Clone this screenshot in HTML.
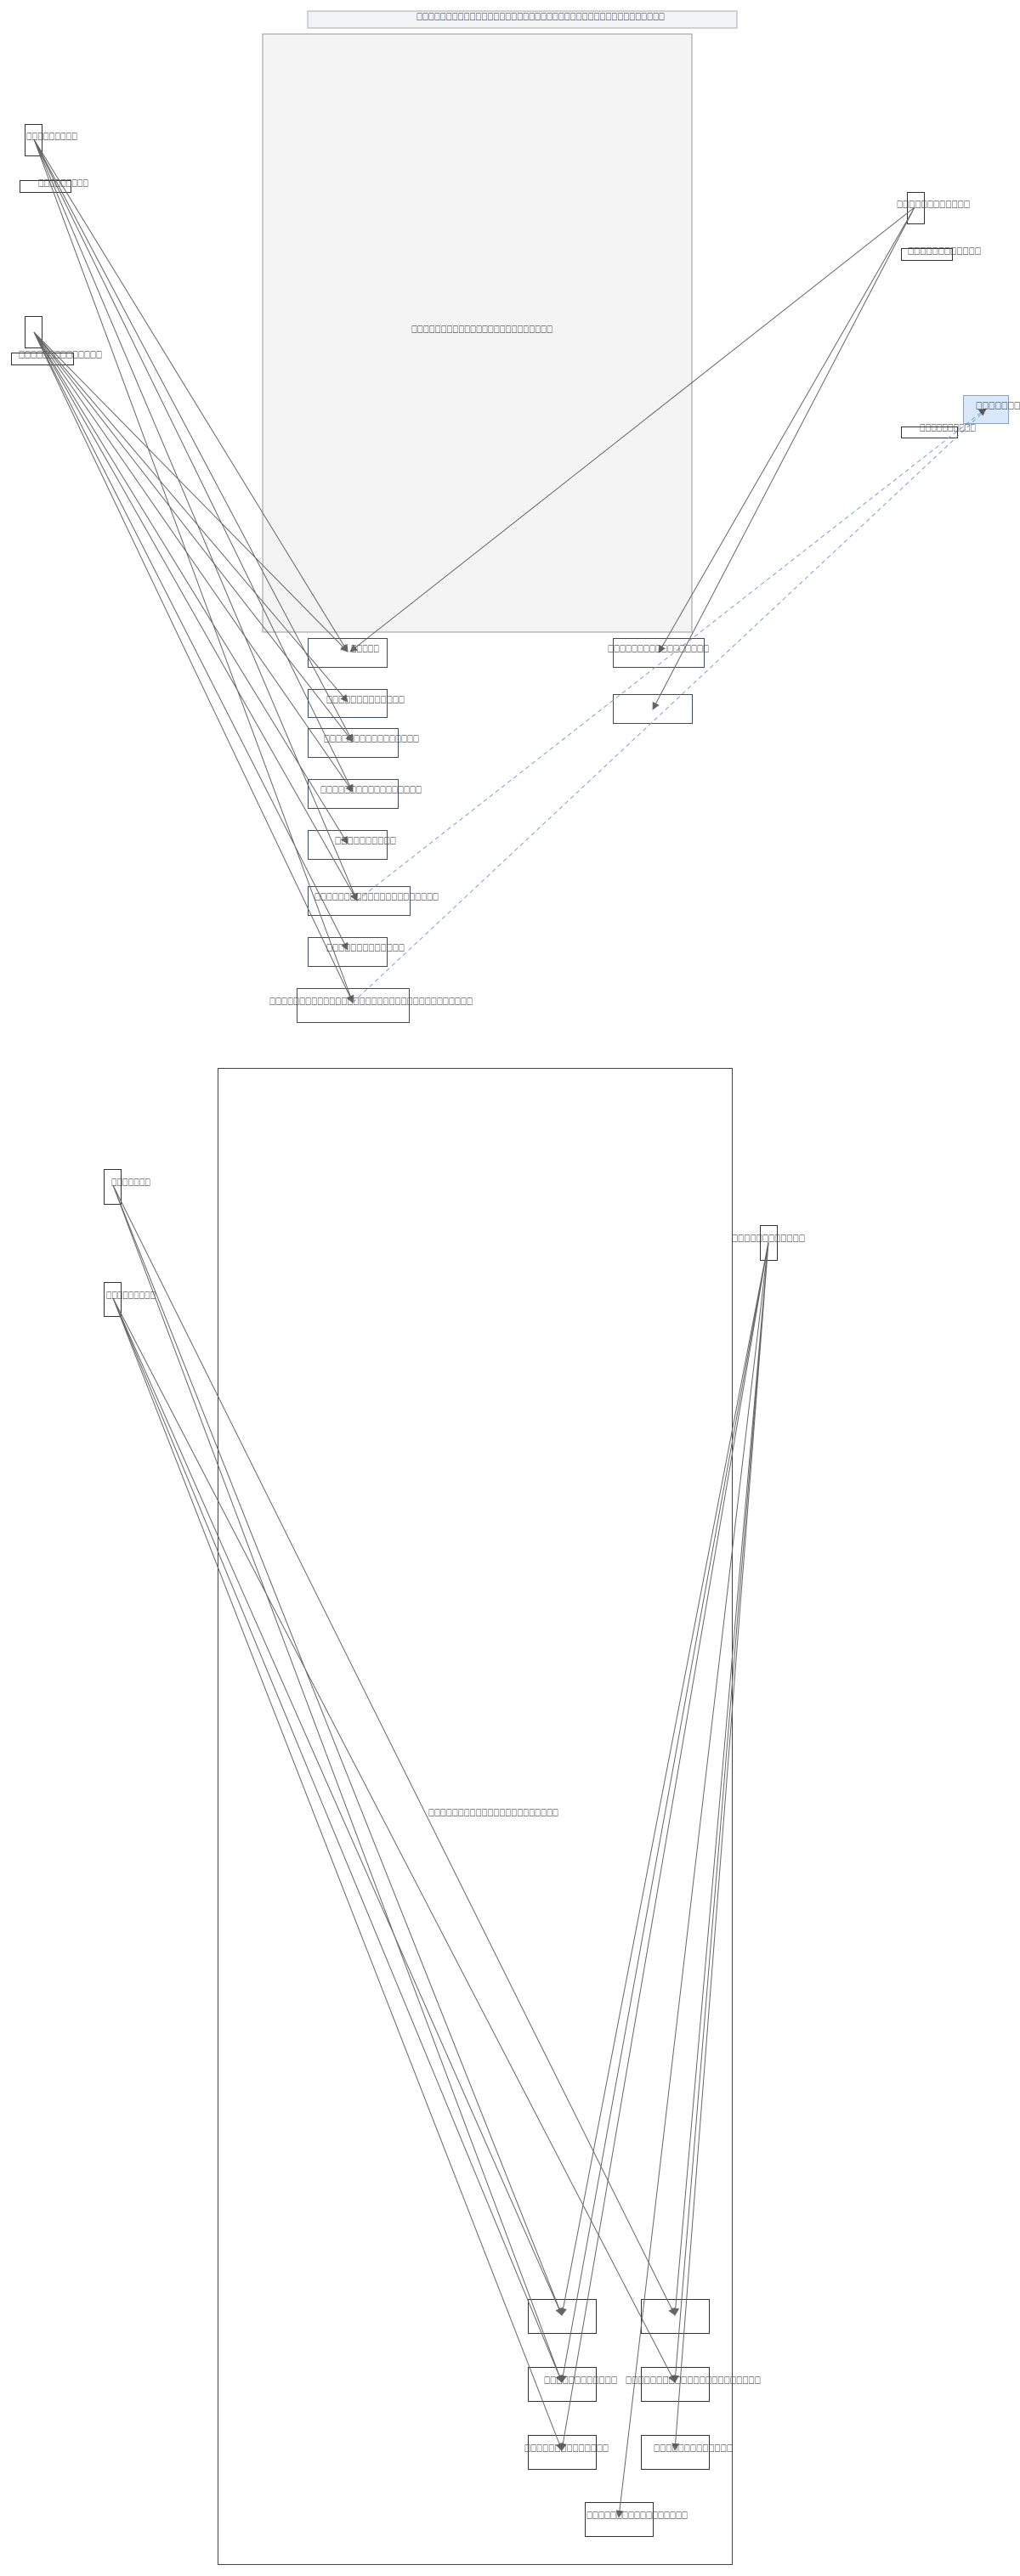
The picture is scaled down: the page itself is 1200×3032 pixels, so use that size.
<!DOCTYPE html>
<html><head><meta charset="utf-8"><style>html,body{margin:0;padding:0;background:#fff}svg{display:block}</style></head>
<body>
<svg width="1200" height="3032" viewBox="0 0 1200 3032" xmlns="http://www.w3.org/2000/svg" font-family="'DejaVu Sans','Liberation Sans',sans-serif" font-size="11">
<defs>
<marker id="ar" viewBox="0 0 10 10" refX="9" refY="5" markerWidth="9" markerHeight="9" orient="auto" markerUnits="userSpaceOnUse"><path d="M0,0L10,5L0,10z" fill="#666"/></marker>
<marker id="ab" viewBox="0 0 10 10" refX="9" refY="5" markerWidth="9" markerHeight="9" orient="auto" markerUnits="userSpaceOnUse"><path d="M0,0L10,5L0,10z" fill="#555"/></marker>
</defs>
<rect x="362" y="13" width="505" height="20" fill="#f1f3f5" stroke="#aab"/>
<rect x="309" y="40" width="505" height="704" fill="#f4f4f4" stroke="#999"/>
<rect x="29.5" y="146.5" width="20" height="37" fill="none" stroke="#333"/>
<rect x="23.5" y="212.5" width="60" height="14" fill="none" stroke="#333"/>
<rect x="29.5" y="372.5" width="20" height="37" fill="none" stroke="#333"/>
<rect x="13.5" y="415.5" width="73" height="14" fill="none" stroke="#333"/>
<rect x="1067.5" y="226.5" width="20" height="37" fill="none" stroke="#333"/>
<rect x="1060.5" y="292.5" width="60" height="14" fill="none" stroke="#333"/>
<rect x="1133.5" y="465.5" width="53" height="33" fill="#dae8fc" stroke="#8aa4cc"/>
<rect x="1060.5" y="502.5" width="66" height="13" fill="none" stroke="#333"/>
<g fill="#fff" stroke="#3d4a63">
<rect x="362.5" y="751.5" width="93" height="34"/>
<rect x="362.5" y="811.5" width="93" height="33"/>
<rect x="362.5" y="857.5" width="106" height="34"/>
<rect x="362.5" y="917.5" width="106" height="34"/>
<rect x="362.5" y="977.5" width="93" height="34"/>
<rect x="362.5" y="1043.5" width="120" height="34"/>
<rect x="362.5" y="1103.5" width="93" height="34"/>
<rect x="349.5" y="1163.5" width="132" height="40"/>
<rect x="721.5" y="751.5" width="107" height="34"/>
<rect x="721.5" y="817.5" width="93" height="34"/>
</g>
<rect x="256.5" y="1257.5" width="605" height="1761" fill="none" stroke="#444"/>
<rect x="122.5" y="1376.5" width="20" height="41" fill="none" stroke="#333"/>
<rect x="122.5" y="1509.5" width="20" height="40" fill="none" stroke="#333"/>
<rect x="894.5" y="1442.5" width="20" height="41" fill="none" stroke="#333"/>
<g fill="none" stroke="#333">
<rect x="621.5" y="2706.5" width="80" height="40"/>
<rect x="754.5" y="2706.5" width="80" height="40"/>
<rect x="621.5" y="2786.5" width="80" height="40"/>
<rect x="754.5" y="2786.5" width="80" height="40"/>
<rect x="621.5" y="2866.5" width="80" height="40"/>
<rect x="754.5" y="2866.5" width="80" height="40"/>
<rect x="688.5" y="2945.5" width="80" height="40"/>
</g>
<g stroke="#666" stroke-width="1" fill="none" marker-end="url(#ar)">
<line x1="40" y1="164" x2="409" y2="767"/>
<line x1="40" y1="164" x2="415" y2="873"/>
<line x1="40" y1="164" x2="415" y2="932"/>
<line x1="40" y1="164" x2="420" y2="1060"/>
<line x1="40" y1="164" x2="415" y2="1180"/>
<line x1="40" y1="391" x2="409" y2="767"/>
<line x1="40" y1="391" x2="409" y2="826"/>
<line x1="40" y1="391" x2="415" y2="873"/>
<line x1="40" y1="391" x2="415" y2="932"/>
<line x1="40" y1="391" x2="409" y2="993"/>
<line x1="40" y1="391" x2="420" y2="1060"/>
<line x1="40" y1="391" x2="409" y2="1118"/>
<line x1="40" y1="391" x2="415" y2="1180"/>
<line x1="1076" y1="244" x2="412" y2="767"/>
<line x1="1076" y1="244" x2="775" y2="768"/>
<line x1="1076" y1="244" x2="768" y2="835"/>
</g>
<g stroke="#7b9fd4" stroke-width="1" stroke-dasharray="5,4" fill="none">
<line x1="420" y1="1060" x2="1160" y2="481" marker-end="url(#ab)"/>
<line x1="415" y1="1180" x2="1158" y2="484"/>
</g>
<g stroke="#666" stroke-width="1" fill="none" marker-end="url(#ar)">
<line x1="133" y1="1395" x2="661" y2="2725"/>
<line x1="133" y1="1395" x2="661" y2="2804"/>
<line x1="133" y1="1395" x2="794" y2="2725"/>
<line x1="133" y1="1528" x2="661" y2="2725"/>
<line x1="133" y1="1528" x2="661" y2="2804"/>
<line x1="133" y1="1528" x2="661" y2="2884"/>
<line x1="133" y1="1528" x2="794" y2="2804"/>
<line x1="904" y1="1462" x2="661" y2="2725"/>
<line x1="904" y1="1462" x2="661" y2="2804"/>
<line x1="904" y1="1462" x2="661" y2="2884"/>
<line x1="904" y1="1462" x2="728" y2="2963"/>
<line x1="904" y1="1462" x2="794" y2="2725"/>
<line x1="904" y1="1462" x2="794" y2="2804"/>
<line x1="904" y1="1462" x2="794" y2="2884"/>
</g>
<g fill="#444" dominant-baseline="central">
<text x="490" y="19" textLength="292" lengthAdjust="spacingAndGlyphs" fill="#334a6e">□□□□□□□□□□□□□□□□□□□□□□□□□□□□□□□□□□□□□□□□□□</text>
<text x="484" y="387" textLength="166" lengthAdjust="spacingAndGlyphs">□□□□□□□□□□□□□□□□□□□□□□□□</text>
<text x="31" y="160" textLength="60" lengthAdjust="spacingAndGlyphs">□□□□□□□□□</text>
<text x="45" y="215" textLength="59" lengthAdjust="spacingAndGlyphs">□□□□□□□□□</text>
<text x="22" y="417" textLength="98" lengthAdjust="spacingAndGlyphs">□□□□□□□□□□□□□□</text>
<text x="1055" y="240" textLength="86" lengthAdjust="spacingAndGlyphs">□□□□□□□□□□□□</text>
<text x="1068" y="295" textLength="86" lengthAdjust="spacingAndGlyphs">□□□□□□□□□□□□</text>
<text x="1148" y="477" textLength="60" lengthAdjust="spacingAndGlyphs">□□□□□□□□</text>
<text x="1082" y="503" textLength="66" lengthAdjust="spacingAndGlyphs">□□□□□□□□□□</text>
<text x="413" y="763" textLength="33" lengthAdjust="spacingAndGlyphs">□□□□□</text>
<text x="384" y="823" textLength="92" lengthAdjust="spacingAndGlyphs">□□□□□□□□□□□□□</text>
<text x="381" y="869" textLength="112" lengthAdjust="spacingAndGlyphs">□□□□□□□□□□□□□□□□</text>
<text x="377" y="929" textLength="119" lengthAdjust="spacingAndGlyphs">□□□□□□□□□□□□□□□□□</text>
<text x="394" y="989" textLength="72" lengthAdjust="spacingAndGlyphs">□□□□□□□□□□</text>
<text x="370" y="1055" textLength="146" lengthAdjust="spacingAndGlyphs">□□□□□□□□□□□□□□□□□□□□□</text>
<text x="384" y="1115" textLength="92" lengthAdjust="spacingAndGlyphs">□□□□□□□□□□□□□</text>
<text x="317" y="1178" textLength="239" lengthAdjust="spacingAndGlyphs">□□□□□□□□□□□□□□□□□□□□□□□□□□□□□□□□□□</text>
<text x="715" y="763" textLength="119" lengthAdjust="spacingAndGlyphs">□□□□□□□□□□□□□□□□□</text>
<text x="131" y="1391" textLength="46" lengthAdjust="spacingAndGlyphs">□□□□□□□</text>
<text x="125" y="1524" textLength="58" lengthAdjust="spacingAndGlyphs">□□□□□□□□□</text>
<text x="861" y="1457" textLength="86" lengthAdjust="spacingAndGlyphs">□□□□□□□□□□□□</text>
<text x="504" y="2133" textLength="153" lengthAdjust="spacingAndGlyphs">□□□□□□□□□□□□□□□□□□□□□□</text>
<text x="640" y="2801" textLength="86" lengthAdjust="spacingAndGlyphs">□□□□□□□□□□□□</text>
<text x="736" y="2801" textLength="159" lengthAdjust="spacingAndGlyphs">□□□□□□□□□□□□□□□□□□□□□□</text>
<text x="617" y="2881" textLength="99" lengthAdjust="spacingAndGlyphs">□□□□□□□□□□□□□□</text>
<text x="769" y="2881" textLength="93" lengthAdjust="spacingAndGlyphs">□□□□□□□□□□□□□</text>
<text x="690" y="2960" textLength="119" lengthAdjust="spacingAndGlyphs">□□□□□□□□□□□□□□□□□</text>
</g>
</svg>
</body></html>
